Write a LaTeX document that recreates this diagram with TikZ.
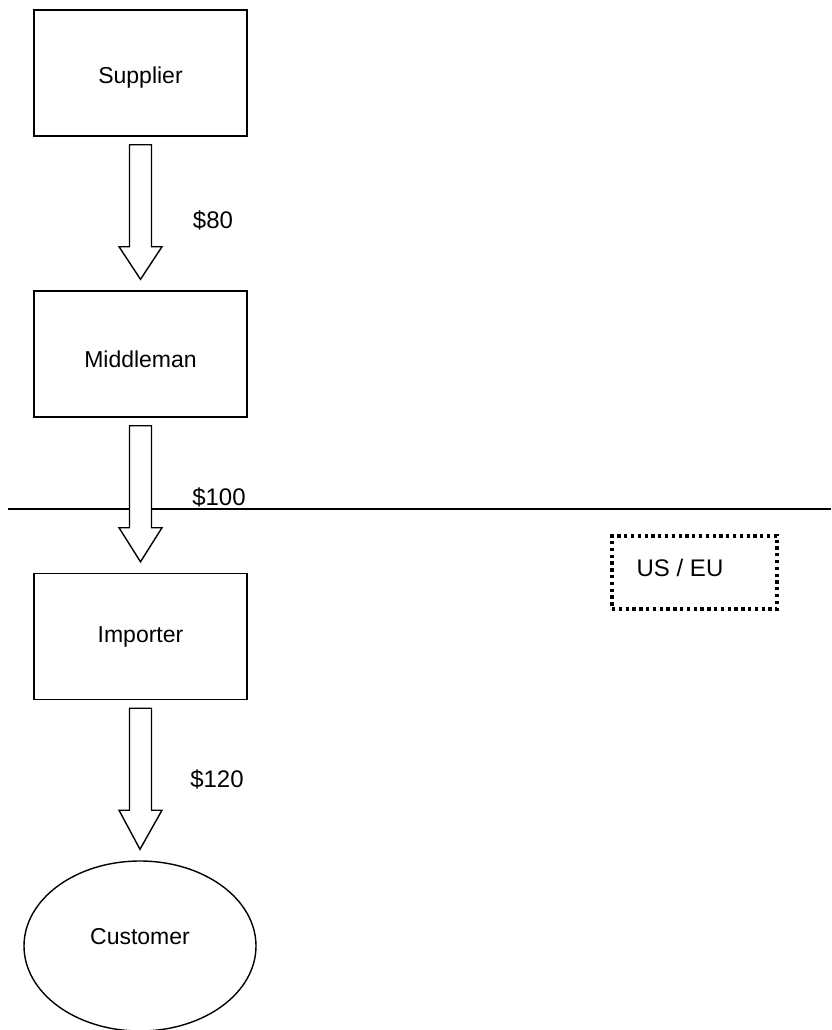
\documentclass[tikz,border=0pt]{standalone}
\usepackage{fontspec}
\setmainfont{Liberation Sans}
\usetikzlibrary{calc,shapes.geometric}
\tikzset{
  box/.style={draw, line width=1.4pt, minimum width=213pt, minimum height=126pt, inner sep=0pt, font=\fontsize{23}{27}\selectfont},
  blockarrow/.style={draw, line width=1.4pt, fill=white, line join=miter},
  price/.style={font=\fontsize{24}{28}\selectfont, inner sep=0pt},
  region/.style={draw, line width=3.3pt, dash pattern=on 3.3pt off 3.5pt, minimum width=165pt, minimum height=73pt, inner sep=0pt},
}
\begin{document}
\begin{tikzpicture}[x=1pt,y=-1pt]
\useasboundingbox (0,0) rectangle (831,1030);
% separator line
\coordinate (lineL) at (8,509);
\coordinate (lineR) at (831,509);
\draw[line width=1.4pt] (lineL) -- (lineR);

\node[box] (sup) at (140.5,73) {};
\node[font=\fontsize{23}{27}\selectfont] at (140.5,78) {Supplier};
\node[box] (mid) at (140.5,354) {};
\node[font=\fontsize{23}{27}\selectfont] at (140.5,359) {Middleman};
\node[box] (imp) at (140.5,636.5) {};
\node[font=\fontsize{23}{27}\selectfont] at (140.5,637) {Importer};
\node[draw, ellipse, line width=1.4pt, minimum width=232pt, minimum height=170pt, inner sep=0pt] (cust) at (140,946) {};
\node[font=\fontsize{23}{27}\selectfont] at (140,937) {Customer};

% block arrows
\foreach \a/\b in {sup/mid, mid/imp, imp/cust}{
  \draw[blockarrow] ($(\a.south)+(-11,8)$) -- ++(0,102) -- ++(-10.5,0)
     -- ($(\b.north)+(0,-11)$) -- ($(\a.south)+(21.5,110)$) -- ++(-10.5,0)
     -- ($(\a.south)+(11,8)$) -- cycle;
}

\node[price] (p80) at (213,220) {\$80};
\node[price] (p100) at (219,497) {\$100};
\node[price] (p120) at (217,779) {\$120};

\node[region] (useu) at (694.5,572.5) {};
\node[price] at (680,568) {US / EU};
\end{tikzpicture}
\end{document}
